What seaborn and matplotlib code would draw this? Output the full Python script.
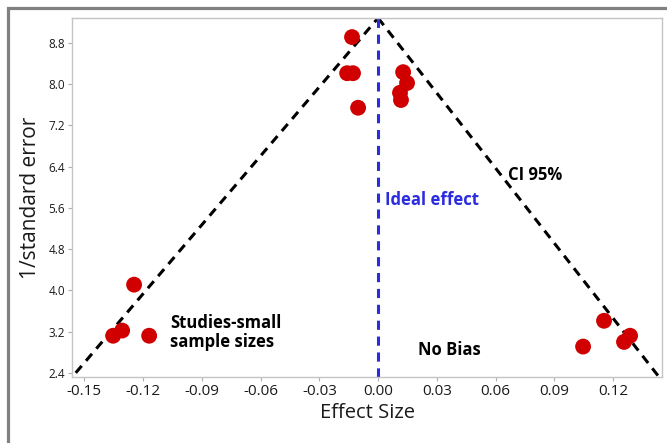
import matplotlib
matplotlib.use("Agg")
import matplotlib.pyplot as plt
from matplotlib.lines import Line2D
import seaborn as sns
import pandas as pd
import numpy as np

# Data
effect_size = [-0.0133, -0.0158, -0.0128, -0.0102, 0.0128, 0.0148, 0.0112, 0.0117,
               -0.1246, -0.1353, -0.1307, -0.1169, 0.1154, 0.1047, 0.1256, 0.1287]
inv_se = [8.91, 8.21, 8.21, 7.54, 8.23, 8.02, 7.83, 7.69,
          4.11, 3.12, 3.22, 3.12, 3.41, 2.91, 3.00, 3.12]

ci_left_x = [-0.1544, 0.0]
ci_left_y = [2.40, 9.28]
ci_right_x = [0.0, 0.1435]
ci_right_y = [9.28, 2.32]
ideal_x = [0.0, 0.0]
ideal_y = [2.32, 9.28]

x_ticks = [-0.15, -0.12, -0.09, -0.06, -0.03, 0.00, 0.03, 0.06, 0.09, 0.12]
y_ticks = [2.4, 3.2, 4.0, 4.8, 5.6, 6.4, 7.2, 8.0, 8.8]

df = pd.DataFrame({"Effect Size": effect_size, "1/standard error": inv_se})

sns.set_style("white")
plt.rcParams['font.family'] = ['Open Sans', 'DejaVu Sans']

fig = plt.figure(figsize=(6.67, 4.43), dpi=100)
ax = fig.add_axes([72/667, 1-377/443, (662-72)/667, (377-18)/443])

ax.plot(ci_left_x, ci_left_y, ls=(0, (3, 2.2)), color="black", lw=2.2, zorder=2)
ax.plot(ci_right_x, ci_right_y, ls=(0, (3, 2.2)), color="black", lw=2.2, zorder=2)
ax.plot(ideal_x, ideal_y, ls=(0, (3, 2.2)), color="#2b2be0", lw=2.2, zorder=2)

sns.scatterplot(data=df, x="Effect Size", y="1/standard error", ax=ax,
                s=130, color="#d00000", edgecolor="none", zorder=3)

ax.set_xlim(-0.1563, 0.145)
ax.set_ylim(2.32, 9.28)
ax.set_xticks(x_ticks)
ax.set_xticklabels([f"{t:.2f}" for t in x_ticks])
ax.set_yticks(y_ticks)
ax.set_yticklabels([f"{t:.1f}" for t in y_ticks])

for s in ax.spines.values():
    s.set_color("#c4c4c4")
    s.set_linewidth(1)
ax.tick_params(axis="both", direction="out", length=3, width=0.8, color="#b0b0b0",
               bottom=True, left=True, labelcolor="#1a1a1a")
ax.tick_params(axis="x", labelsize=11, pad=2)
ax.tick_params(axis="y", labelsize=8.5, pad=2)

ax.set_xlabel("Effect Size", fontsize=14.5, color="#1a1a1a", labelpad=3)
ax.set_ylabel("1/standard error", fontsize=15, color="#1a1a1a", labelpad=5)

ax.text(0.0036, 5.75, "Ideal effect", color="#2b2be0", fontsize=12,
        fontweight="bold", ha="left", va="center")
ax.text(0.0664, 6.24, "CI 95%", color="black", fontsize=12,
        fontweight="bold", ha="left", va="center")
ax.text(-0.1062, 3.18, "Studies-small\nsample sizes", color="black", fontsize=12,
        fontweight="bold", ha="left", va="center", linespacing=1.1)
ax.text(0.0205, 2.85, "No Bias", color="black", fontsize=12,
        fontweight="bold", ha="left", va="center")

# outer gray frame (top and left edges visible)
fx = 8/667
fy = 1 - 8/443
fig.add_artist(Line2D([fx, fx, 1.01], [-0.01, fy, fy], transform=fig.transFigure,
                      color="#808080", lw=2.3, solid_joinstyle="miter"))

fig.savefig("out.png", dpi=100)
